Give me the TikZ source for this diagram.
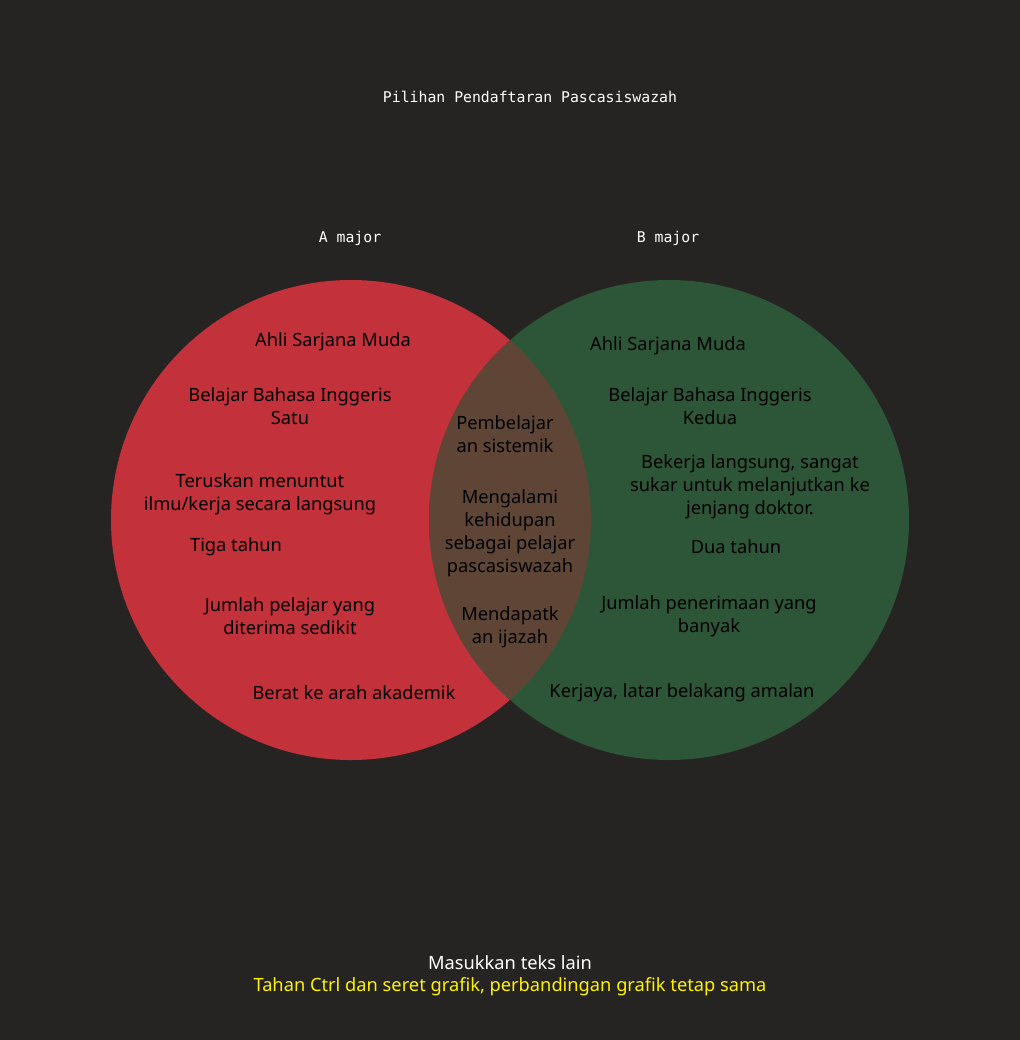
\documentclass[tikz,border=0pt]{standalone}
\usepackage{fontspec}
\setmainfont{Noto Sans}
\setmonofont{DejaVu Sans Mono}
\definecolor{bgdark}{HTML}{252423}
\definecolor{setred}{HTML}{C3313A}
\definecolor{setgreen}{HTML}{2D5537}
\definecolor{setboth}{HTML}{5E4535}
\tikzset{
  item/.style={align=center, text=black, yshift=-1.5pt, font=\fontsize{13.7}{17.2}\selectfont},
  head/.style={text=white, font=\ttfamily\fontsize{11.1}{13}\selectfont}
}
\begin{document}
\begin{tikzpicture}[x=0.75pt,y=-0.75pt]
  \fill[bgdark] (0,0) rectangle (1020,1040);
  \coordinate (A) at (351,520);
  \coordinate (B) at (669,520);
  \fill[setred] (A) circle (240);
  \fill[setgreen] (B) circle (240);
  \begin{scope}
    \clip (A) circle (240);
    \fill[setboth] (B) circle (240);
  \end{scope}
  \node[head] (title) at (530,97) {Pilihan Pendaftaran Pascasiswazah};
  \node[head] (amaj) at (350,238) {A major};
  \node[head] (bmaj) at (668,238) {B major};
  % A side
  \node[item] (a1) at (333,340) {Ahli Sarjana Muda};
  \node[item] (a2) at (290,404) {Belajar Bahasa Inggeris\\Satu};
  \node[item] (a3) at (260,492) {Teruskan menuntut\\ilmu/kerja secara langsung};
  \node[item] (a4) at (236,545) {Tiga tahun};
  \node[item] (a5) at (290,614) {Jumlah pelajar yang\\diterima sedikit};
  \node[item] (a6) at (354,691) {Berat ke arah akademik};
  % both
  \node[item] (c1) at (505,432) {Pembelajar\\an sistemik};
  \node[item] (c2) at (510,531) {Mengalami\\kehidupan\\sebagai pelajar\\pascasiswazah};
  \node[item] (c3) at (510,625) {Mendapatk\\an ijazah};
  % B side
  \node[item] (b1) at (668,344) {Ahli Sarjana Muda};
  \node[item] (b2) at (710,404) {Belajar Bahasa Inggeris\\Kedua};
  \node[item] (b3) at (750,485) {Bekerja langsung, sangat\\sukar untuk melanjutkan ke\\jenjang doktor.};
  \node[item] (b4) at (736,545) {Dua tahun};
  \node[item] (b5) at (709,614) {Jumlah penerimaan yang\\banyak};
  \node[item] (b6) at (682,691) {Kerjaya, latar belakang amalan};
  % notes
  \node[item, text=white] (note) at (510,961) {Masukkan teks lain};
  \node[item, text=yellow] (tip) at (510,985) {Tahan Ctrl dan seret grafik, perbandingan grafik tetap sama};
\end{tikzpicture}
\end{document}
